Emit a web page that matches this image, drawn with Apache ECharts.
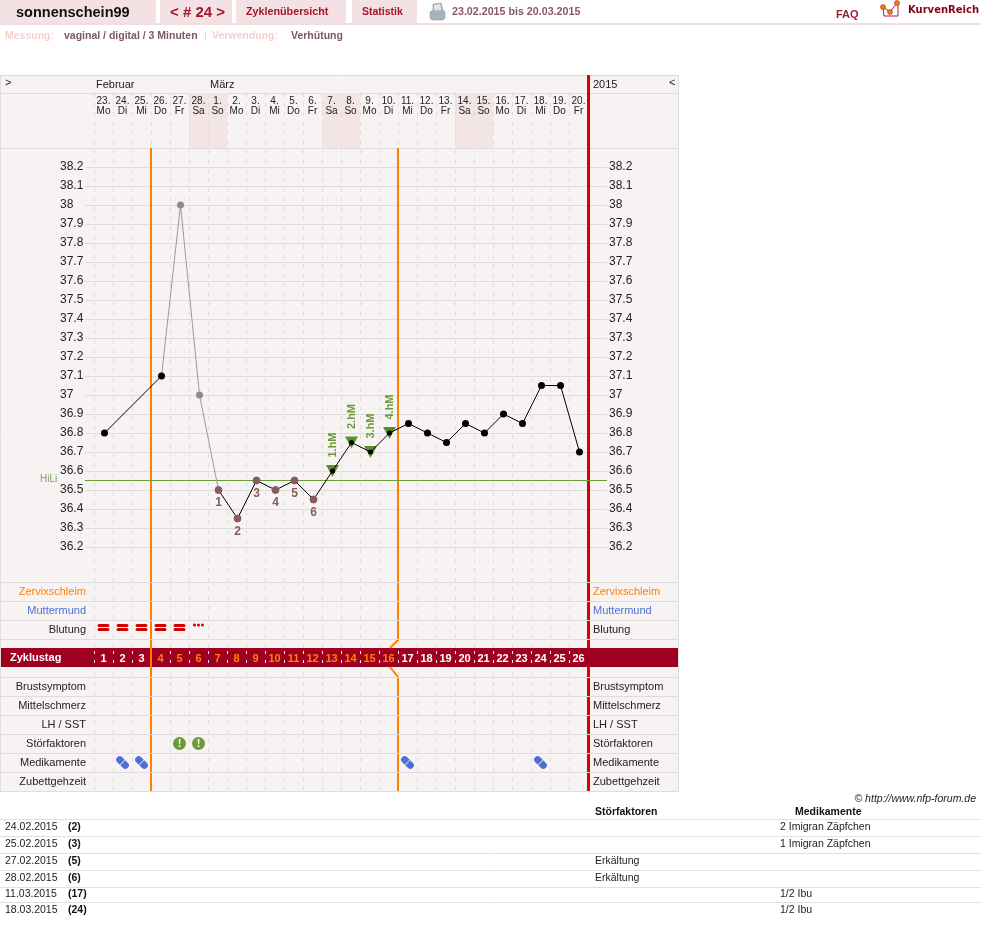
<!DOCTYPE html>
<html><head><meta charset="utf-8">
<style>html,body{margin:0;padding:0;background:#fff}#c{width:981px;height:951px}</style>
<script src="https://cdn.jsdelivr.net/npm/echarts@6/dist/echarts.min.js"></script>
</head><body><div id="c"></div>
<script>
const dayDates=['23.','24.','25.','26.','27.','28.','1.','2.','3.','4.','5.','6.','7.','8.','9.','10.','11.','12.','13.','14.','15.','16.','17.','18.','19.','20.'];
const weekdays=['Mo','Di','Mi','Do','Fr','Sa','So','Mo','Di','Mi','Do','Fr','Sa','So','Mo','Di','Mi','Do','Fr','Sa','So','Mo','Di','Mi','Do','Fr'];
const cycleDays=['1','2','3','4','5','6','7','8','9','10','11','12','13','14','15','16','17','18','19','20','21','22','23','24','25','26'];
const temps=[36.8,null,null,37.1,38.0,37.0,36.5,36.35,36.55,36.5,36.55,36.45,36.6,36.75,36.7,36.8,36.85,36.8,36.75,36.85,36.8,36.9,36.85,37.05,37.05,36.7];
const excludedDays=[5,6];
const lowDays=[7,8,9,10,11,12];
const highDays=[13,14,15,16];
const highLabels=['1.hM','2.hM','3.hM','4.hM'];
const hiliValue=36.55;
const tempMin=36.2, tempMax=38.2;
const phaseEnds=[3,16];
const peakDays=[12,13,14,15];
const peakLabels=['H','1','2','3'];
const upperRows=['Zervixschleim','Muttermund','Blutung'];
const lowerRows=['Brustsymptom','Mittelschmerz','LH / SST','Störfaktoren','Medikamente','Zubettgehzeit'];
const mucusDays=[7,8,9,10,11,12,13,14,15];
const mucusSigns=['Ø','Ø','S','S','S','S','S','S','S'];
const mucusPlusDays=[12];
const heavyBleedDays=[1,2,3,4,5];
const lightBleedDays=[6];
const disturbDays=[5,6];
const medDays=[2,3,17,24];
const tableHead=['Störfaktoren','Medikamente'];
const tableDates=['24.02.2015','25.02.2015','27.02.2015','28.02.2015','11.03.2015','18.03.2015'];
const tableCycle=['(2)','(3)','(5)','(6)','(17)','(24)'];
const tableDisturb=['','','Erkältung','Erkältung','',''];
const tableMeds=['2 Imigran Zäpfchen','1 Imigran Zäpfchen','','','1/2 Ibu','1/2 Ibu'];

const SANS='"Liberation Sans",Arial,sans-serif';
const LINE='#dedcdc', BG='#f8f3f3', SHADE='#f3e4e6', ORANGE='#ff8000', RED='#dd0000', BAND='#a00020', GREEN='#6b9b37', BROWN='#8a5a62', BLUE='#4f6fd8', TAB='#f3e1e3', CRIMSON='#a5142a';
const LEFT=94, WIDTH=494;

const grid=[],xAxis=[],yAxis=[],series=[];
function addX(top,height,x,left){
  const i=grid.length;
  grid.push({left:left==null?LEFT:left,width:WIDTH,top:top,height:height,containLabel:false});
  xAxis.push(Object.assign({type:'category',gridIndex:i,data:dayDates,boundaryGap:true,
    axisLine:{show:false},axisTick:{show:false},axisLabel:{show:false},splitLine:{show:false}},x||{}));
  return i;
}
function hiddenY(i,min,max){yAxis.push({type:'value',gridIndex:i,min:min,max:max,show:false});return yAxis.length-1;}
const dayIdx=d=>d-1;

// full-height dashes + phase lines
const gBack=addX(93,698,{z:-4.9,splitLine:{show:true,interval:0,lineStyle:{color:LINE,width:1,type:[4,5.5]}}});
const yBack=hiddenY(gBack,0,1);
// header
const gHead=addX(93,55,{position:'top',z:-4.5,data:dayDates.map((d,i)=>d+'\n'+weekdays[i]),
  axisLabel:{show:true,inside:true,interval:0,margin:3,fontFamily:SANS,fontSize:10,lineHeight:10,color:'#222'}});
const yHead=hiddenY(gHead,0,1);
series.push({type:'bar',xAxisIndex:gHead,yAxisIndex:yHead,z:-5,barWidth:'100%',silent:true,itemStyle:{color:SHADE},
  data:weekdays.map(w=>(w==='Sa'||w==='So')?1:0)});
// temperature
const gTemp=addX(167,380,null,95);
const tempAxis=(pos,tick,margin)=>({type:'value',gridIndex:gTemp,position:pos,min:tempMin,max:tempMax,interval:0.1,z:-4,
  axisLine:{show:false},axisTick:{show:true,length:tick,lineStyle:{color:LINE}},
  axisLabel:{show:true,align:'left',margin:margin,fontFamily:SANS,fontSize:12,color:'#222'},
  splitLine:{show:pos==='left',lineStyle:{color:LINE,width:1}}});
yAxis.push(tempAxis('left',10,35));
const yTemp=yAxis.length-1;
yAxis.push(tempAxis('right',18,20));

function seg(from,to,color,pointFn){
  return {type:'line',xAxisIndex:gTemp,yAxisIndex:yTemp,connectNulls:true,showSymbol:true,showAllSymbol:true,silent:true,animation:false,z:5,
    lineStyle:{color:color,width:1},
    data:temps.map((v,i)=>{
      const d=i+1; if(d<from||d>to) return null;
      return Object.assign({value:v},pointFn(d));
    })};
}
const none={symbol:'none'};
series.push(seg(1,4,'#000',d=>({symbol:'circle',symbolSize:7,itemStyle:{color:'#000'}})));
series.push(seg(4,7,'#999',d=>excludedDays.includes(d)?{symbol:'circle',symbolSize:7,itemStyle:{color:'#8c8c8c'}}:none));
// triangles below dots
series.push({type:'scatter',xAxisIndex:gTemp,yAxisIndex:yTemp,z:4,silent:true,symbol:'triangle',symbolRotate:180,symbolSize:[13,12],
  itemStyle:{color:'#5a8f2a',opacity:1},
  label:{show:true,position:'inside',rotate:90,offset:[26,0],fontFamily:SANS,fontWeight:'bold',fontSize:11,color:GREEN,
    formatter:p=>highLabels[highDays.indexOf(p.value[0]+1)]},
  data:highDays.map(d=>[dayIdx(d),temps[dayIdx(d)]])});
series.push(seg(7,26,'#000',d=>{
  const li=lowDays.indexOf(d);
  if(li>=0) return {symbol:'circle',symbolSize:7,itemStyle:{color:BROWN,borderColor:BROWN},
    label:{show:true,position:'bottom',distance:3,formatter:String(li+1),fontFamily:SANS,fontWeight:'bold',fontSize:12,color:BROWN}};
  if(highDays.includes(d)) return {symbol:'circle',symbolSize:5,itemStyle:{color:'#000'}};
  return {symbol:'circle',symbolSize:7,itemStyle:{color:'#000'}};
}));
// HiLi
series.push({type:'custom',xAxisIndex:gTemp,yAxisIndex:yTemp,z:3,silent:true,data:[[0,hiliValue]],encode:{x:0,y:1},
  renderItem:(p,api)=>{
    const y=Math.floor(api.coord([0,api.value(1)])[1])+0.5;
    return {type:'group',children:[
      {type:'line',shape:{x1:85,y1:y,x2:607,y2:y},style:{stroke:GREEN,lineWidth:1}},
      {type:'text',style:{x:40,y:y-1,text:'HiLi',fill:'#7f9f6f',font:'10px '+SANS,textVerticalAlign:'middle'}}
    ]};
  }});
// peak day row
const gPeak=addX(563,19);
yAxis.push({type:'category',gridIndex:gPeak,data:['Peak'],show:false});
const yPeak=yAxis.length-1;
const textMark=(g,yi,data,fmt,color,font,offset,z)=>({type:'scatter',xAxisIndex:g,yAxisIndex:yi,symbol:'none',silent:true,z:z||6,
  label:{show:true,position:'inside',offset:offset||[0,0],formatter:fmt,color:color,fontFamily:font.family,fontWeight:'bold',fontSize:font.size},data:data});
series.push(textMark(gPeak,yPeak,peakDays.map((d,i)=>({value:[dayIdx(d),0],name:peakLabels[i]})),p=>p.name,ORANGE,{family:SANS,size:11},[-2,0]));
// rows
function rowGrid(top,height,rows){
  const g=addX(top,height);
  const colorOf=v=>v==='Zervixschleim'?ORANGE:v==='Muttermund'?BLUE:'#222';
  yAxis.push({type:'category',gridIndex:g,position:'left',inverse:true,data:rows,z:0,axisLine:{show:false},
    axisTick:{show:true,length:94,lineStyle:{color:LINE}},
    axisLabel:{show:true,interval:0,margin:8,fontFamily:SANS,fontSize:11,color:colorOf},
    splitLine:{show:true,interval:0,lineStyle:{color:LINE}}});
  const yi=yAxis.length-1;
  yAxis.push({type:'category',gridIndex:g,position:'right',inverse:true,data:rows,z:0,axisLine:{show:false},
    axisTick:{show:true,length:91,lineStyle:{color:LINE}},
    axisLabel:{show:true,interval:0,margin:5,align:'left',fontFamily:SANS,fontSize:11,color:colorOf},splitLine:{show:false}});
  return [g,yi];
}
const [gUp,yUp]=rowGrid(582,57,upperRows);
const [gLo,yLo]=rowGrid(677,114,lowerRows);
const upR=n=>upperRows.indexOf(n), loR=n=>lowerRows.indexOf(n);
series.push(textMark(gUp,yUp,mucusDays.map((d,i)=>({value:[dayIdx(d),upR('Zervixschleim')],name:mucusSigns[i],
  label:{color:mucusSigns[i]==='Ø'?BROWN:ORANGE}})),p=>p.name,ORANGE,{family:'"DejaVu Sans"',size:10},[0,2]));
series.push(textMark(gUp,yUp,mucusPlusDays.map(d=>({value:[dayIdx(d),upR('Zervixschleim')]})),'+',ORANGE,{family:SANS,size:11},[0,-5]));
series.push({type:'scatter',xAxisIndex:gUp,yAxisIndex:yUp,silent:true,z:6,symbolSize:[12,7],symbolOffset:[0,-2],itemStyle:{color:'#d40000',opacity:1},
  symbol:'path://M1.5 0H9.5A1.5 1.5 0 0 1 9.5 3H1.5A1.5 1.5 0 0 1 1.5 0ZM1.5 4H9.5A1.5 1.5 0 0 1 9.5 7H1.5A1.5 1.5 0 0 1 1.5 4Z',
  data:heavyBleedDays.map(d=>[dayIdx(d),upR('Blutung')])});
series.push({type:'scatter',xAxisIndex:gUp,yAxisIndex:yUp,silent:true,z:6,symbolSize:[11,3],symbolOffset:[0,-4.5],itemStyle:{color:'#d40000',opacity:1},
  symbol:'path://M0 1.5A1.5 1.5 0 1 1 3 1.5A1.5 1.5 0 1 1 0 1.5ZM4 1.5A1.5 1.5 0 1 1 7 1.5A1.5 1.5 0 1 1 4 1.5ZM8 1.5A1.5 1.5 0 1 1 11 1.5A1.5 1.5 0 1 1 8 1.5Z',
  data:lightBleedDays.map(d=>[dayIdx(d),upR('Blutung')])});
series.push({type:'scatter',xAxisIndex:gLo,yAxisIndex:yLo,silent:true,z:6,symbol:'circle',symbolSize:13,itemStyle:{color:GREEN,opacity:1},
  label:{show:true,position:'inside',formatter:'!',color:'#fff',fontFamily:SANS,fontWeight:'bold',fontSize:11},
  data:disturbDays.map(d=>[dayIdx(d),loR('Störfaktoren')])});
series.push({type:'scatter',xAxisIndex:gLo,yAxisIndex:yLo,silent:true,z:6,symbolSize:[15,7],symbolRotate:-45,itemStyle:{color:BLUE,opacity:1},
  symbol:'path://M3 0H6.7V6H3A3 3 0 0 1 3 0ZM7.3 0H11A3 3 0 0 1 11 6H7.3Z',
  data:medDays.map(d=>[dayIdx(d),loR('Medikamente')])});
// cycle band
const gBand=addX(648,19,{z:-3.5,data:cycleDays,
  axisLabel:{show:true,inside:true,interval:0,margin:3,fontFamily:SANS,fontWeight:'bold',fontSize:11,
    color:(v,i)=>(+v>phaseEnds[0]&&+v<=phaseEnds[1])?ORANGE:'#fff'},
  splitLine:{show:true,showMaxLine:false,interval:0,lineStyle:{color:'#eee',type:[3,6],dashOffset:-3}}});
yAxis.push({type:'category',gridIndex:gBand,data:['Zyklustag'],z:-3.5,axisLine:{show:false},axisTick:{show:false},
  axisLabel:{show:true,align:'left',margin:84,color:'#fff',fontFamily:SANS,fontWeight:'bold',fontSize:11}});
const yBand=yAxis.length-1;
series.push({type:'custom',xAxisIndex:gBand,yAxisIndex:yBand,z:-4,silent:true,data:[[0,0]],encode:{x:0,y:1},
  renderItem:(p,api)=>({type:'rect',shape:{x:1,y:p.coordSys.y,width:677,height:p.coordSys.height},style:{fill:BAND}})});
// phase lines
const BANDT=648,BANDB=667;
series.push({type:'custom',xAxisIndex:gBack,yAxisIndex:yBack,z:-3,silent:true,data:phaseEnds.map(d=>[dayIdx(d),0]),encode:{x:0,y:1},
  renderItem:(p,api)=>{
    const x=api.coord([api.value(0),0])[0]+api.size([1,0])[0]/2;
    const st={stroke:ORANGE,lineWidth:2,fill:null};
    if(p.dataIndex===0) return {type:'line',shape:{x1:x,y1:148,x2:x,y2:791},style:st};
    return {type:'group',children:[
      {type:'polyline',shape:{points:[[x,148],[x,640],[x-8,BANDT]]},style:st},
      {type:'polyline',shape:{points:[[x-8,BANDB],[x,677],[x,791]]},style:st}]};
  }});
series.push({type:'custom',xAxisIndex:gBack,yAxisIndex:yBack,z:-3,silent:true,data:[[dayIdx(26),0]],encode:{x:0,y:1},
  renderItem:(p,api)=>{
    const x=api.coord([api.value(0),0])[0]+api.size([1,0])[0]/2+0.5;
    const st={stroke:RED,lineWidth:3};
    return {type:'group',children:[{type:'line',shape:{x1:x,y1:75,x2:x,y2:BANDT},style:st},{type:'line',shape:{x1:x,y1:BANDB,x2:x,y2:792},style:st}]};
  }});

// page furniture
const g=[];
const rect=(x,y,w,h,fill,z)=>g.push({type:'rect',silent:true,z:z==null?-20:z,shape:{x,y,width:w,height:h},style:{fill}});
const hl=(x1,x2,y,c)=>g.push({type:'line',silent:true,z:-19,shape:{x1,y1:y+.5,x2,y2:y+.5},style:{stroke:c||LINE,lineWidth:1}});
const vl=(x,y1,y2,c)=>g.push({type:'line',silent:true,z:-19,shape:{x1:x+.5,y1,x2:x+.5,y2},style:{stroke:c||LINE,lineWidth:1}});
const txt=(x,y,text,font,fill,align)=>g.push({type:'text',silent:true,z:10,x,y,style:{text,font,fill,textAlign:align||'left',textVerticalAlign:'middle'}});
const b=s=>'bold '+s+'px '+SANS, r=s=>s+'px '+SANS;
rect(0,0,156,23,TAB);rect(160,0,72,23,TAB);rect(236,0,110,23,TAB);rect(352,0,65,23,TAB);
rect(0,23,981,2,'#f1dde0');
txt(16,13,'sonnenschein99',b(14.5),'#111');
txt(170,13,'< # 24 >',b(15),CRIMSON);
txt(246,12.5,'Zyklenübersicht',b(10.75),CRIMSON);
txt(362,12.5,'Statistik',b(10.5),CRIMSON);
txt(452,12.5,'23.02.2015 bis 20.03.2015',b(10.7),BROWN);
txt(836,14.5,'FAQ',b(11),'#952030');
txt(908,10.5,'KurvenReich',b(9)+'','#8a0015');
g[g.length-1].style.font='bold 10px "DejaVu Sans"';
// printer
g.push({type:'polygon',silent:true,z:5,shape:{points:[[433,4],[441,3],[443,10],[445,12],[445,18],[443,20],[432,20],[430,18],[430,12],[433,10]]},style:{fill:'#a9b2b8',stroke:'#8a9096',lineWidth:.5}});
g.push({type:'polygon',silent:true,z:6,shape:{points:[[434,5],[440,4],[441.5,10],[434.5,10.5]]},style:{fill:'#dfe8f2'}});
// logo
g.push({type:'polyline',silent:true,z:5,shape:{points:[[883,7],[884,16],[898,16],[898,5]]},style:{stroke:'#b01848',lineWidth:1,fill:null}});
g.push({type:'polyline',silent:true,z:5,shape:{points:[[883,7],[890,12],[897,3]]},style:{stroke:'#b01848',lineWidth:1,fill:null}});
[[883,7],[890,12],[897,3]].forEach(p=>g.push({type:'circle',silent:true,z:6,shape:{cx:p[0],cy:p[1],r:2.5},style:{fill:'#f08000',stroke:'#a01030',lineWidth:.5}}));
txt(5,36,'Messung:',b(10.5),'#f6cfcf');
txt(64,36,'vaginal / digital / 3 Minuten',b(10.5),'#7d5a60');
txt(204,36,'|',r(11),'#f6cfcf');
txt(212,36,'Verwendung:',b(10.5),'#f6cfcf');
txt(291,36,'Verhütung',b(10.5),'#7d5a60');
// chart frame
rect(0,75,679,717,BG);
hl(0,679,75);hl(0,679,93);hl(0,679,148);hl(0,679,791);vl(0,75,792);vl(678,75,792);
txt(5,83,'>',r(11),'#222');
txt(96,85,'Februar',r(11),'#222');
txt(210,85,'März',r(11),'#222');
txt(593,85,'2015',r(11),'#222');
txt(669,83,'<',r(11),'#222');
// table
txt(976,799,'© http://www.nfp-forum.de','italic '+r(10.5),'#222','right');
txt(595,812.5,tableHead[0],b(10.5),'#111');
txt(795,812.5,tableHead[1],b(10.5),'#111');
const lineYs=[819,836,853,870,887,902];
lineYs.forEach(y=>hl(0,981,y,'#e0e0e0'));
const rowYs=[827,844,861,878,894,910];
tableDates.forEach((d,i)=>{
  txt(5,rowYs[i],d,r(10.5),'#222');
  txt(68,rowYs[i],tableCycle[i],b(10.5),'#111');
  if(tableDisturb[i]) txt(595,rowYs[i],tableDisturb[i],r(10.5),'#222');
  if(tableMeds[i]) txt(780,rowYs[i],tableMeds[i],r(10.5),'#222');
});

const chart=echarts.init(document.getElementById('c'),null,{width:981,height:951,renderer:'canvas'});
chart.setOption({animation:false,backgroundColor:'#fff',tooltip:{show:false},grid,xAxis,yAxis,series,graphic:{elements:g}});
</script></body></html>
